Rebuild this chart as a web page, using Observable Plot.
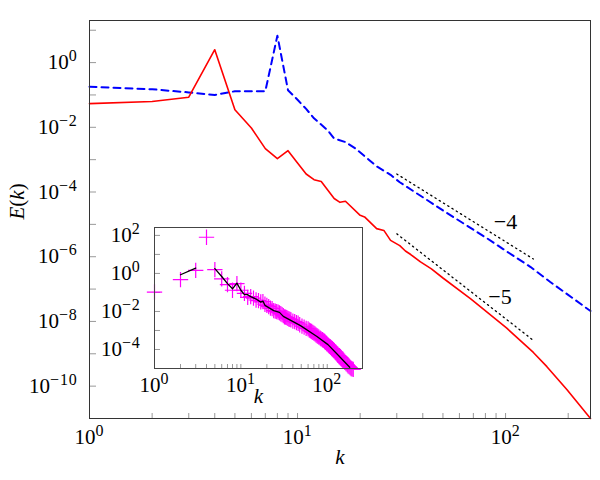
<!DOCTYPE html>
<html><head><meta charset="utf-8">
<script src="https://cdn.jsdelivr.net/npm/d3@7"></script>
<script src="https://cdn.jsdelivr.net/npm/@observablehq/plot@0.6"></script>
<style>
html,body{margin:0;padding:0;background:#fff;}
#wrap{position:relative;width:600px;height:480px;overflow:hidden;}
#wrap svg{max-width:none !important;}
#wrap svg text, #wrap svg tspan{font-family:'Liberation Serif','DejaVu Serif',serif !important;}
</style></head><body><div id="wrap"></div>
<script>
// ---- main panel data ----
const redK = [1,2,3,4,5,6,7,8,9,10,11,12,13,15,16,17,20,21,24,26,28,31,33,35,39,44,50,68,101,136,158,197,256];
const redE = [5.4e-2,6.3e-2,8.5e-2,2.5,3.5e-2,9.5e-3,2.2e-3,1.07e-3,1.9e-3,7.9e-4,3.6e-4,2.4e-4,2.1e-4,6.3e-5,4.8e-5,5.2e-5,1.9e-5,1.7e-5,7.4e-6,6.5e-6,3.2e-6,2.2e-6,1.5e-6,1.17e-6,6.9e-7,4.2e-7,2.2e-7,5.0e-8,6.3e-9,1.1e-9,4.0e-10,7.9e-11,1.0e-11];
const blueK = [1,2,3,4,5,6,7,8,9,10,11,12,14,15,17,19,22,24,28,31,40,50,66,82,104,132,164,256];
const blueE = [0.18,0.15,0.12,0.10,0.13,0.13,0.13,6.8,0.14,0.071,0.037,0.019,7.9e-3,4.5e-3,3.5e-3,2.2e-3,1.0e-3,6.2e-4,3.4e-4,2.0e-4,6.9e-5,2.7e-5,8.7e-6,3.6e-6,1.3e-6,4.8e-7,1.66e-7,2.1e-8];
const refK = [30,136];
const ref4E = [3.6e-4,8.5e-7];
const ref5E = [5.1e-6,2.6e-9];
const slopeK = [100,94];
const slopeE = [1.2e-5,5.9e-8];
const slopeText = ["\u22124","\u22125"];
const mainXTicks = [1,2,3,4,5,6,7,8,9,10,20,30,40,50,60,70,80,90,100,200];
const mainXLabels = [1,10,100];
const mainYTicks = [10,1,1e-1,1e-2,1e-3,1e-4,1e-5,1e-6,1e-7,1e-8,1e-9,1e-10];
const mainYLabels = [1,1e-2,1e-4,1e-6,1e-8,1e-10];
// ---- inset data ----
const insetLineK = [1,2,3,4,5,6,7,8,9,10,11,12,13,15,17,18,19,24,28,31,49,76,102,135,182];
const insetLineE = [null,0.85,1.9,null,1.8,0.69,0.29,0.155,0.31,0.13,0.076,0.076,0.06,0.045,0.031,0.035,0.021,0.011,9e-3,5.5e-3,1.8e-3,4.8e-4,1.8e-4,4.8e-5,1.17e-5];
const markK = [1,2,3,4,5,6,7,8,9,10,11,12,13,14,15,16,17,18,19,20,21,22,23,24,25,26,27,28,29,30,31,32,33,34,35,36,37,38,40,42,44,46,48,51,54,57,60,62,64,66,68,70,72,74,76,78,80,83,85,88,90,93,95,98,100,103,106,109,112,115,118,121,125,128,132,136,140,144,148,152,156,160,165,170,174,179,184,189,194,200];
const markE = [0.105,0.47,1.45,80,1.6,0.52,0.26,0.13,0.29,0.13,0.09,0.055,0.06,0.05,0.04,0.037,0.032,0.033,0.024,0.021,0.018,0.015,0.014,0.011,0.0105,0.0098,0.0093,0.0085,0.0076,0.0068,0.0060,0.0052,0.0050,0.0047,0.0043,0.0040,0.0038,0.0036,0.0031,0.0029,0.0026,0.0024,0.0020,0.0017,0.0015,0.0013,0.0012,0.00105,9.5e-4,8.8e-4,8.0e-4,7.2e-4,6.6e-4,5.9e-4,5.3e-4,4.9e-4,4.5e-4,4.0e-4,3.6e-4,3.3e-4,3.0e-4,2.7e-4,2.4e-4,2.15e-4,1.9e-4,1.7e-4,1.5e-4,1.35e-4,1.2e-4,1.1e-4,9.8e-5,8.6e-5,7.4e-5,6.5e-5,5.6e-5,4.8e-5,4.2e-5,3.7e-5,3.2e-5,2.8e-5,2.4e-5,2.1e-5,1.8e-5,1.6e-5,1.4e-5,1.25e-5,1.1e-5,1.0e-5,9.5e-6,9.0e-6];
const insetXTicks = [1,2,3,4,5,6,7,8,9,10,20,30,40,50,60,70,80,90,100,200];
const insetXLabels = [1,10,100];
const insetYTicks = [100,10,1,0.1,0.01,1e-3,1e-4];
const insetYLabels = [100,1,1e-2,1e-4];

const zip = (ks, es) => ks.map((k, i) => ({k, e: es[i]}));
const expLabel = d => { const e = Math.round(Math.log10(d)); return "10^" + (e < 0 ? "\u2212" + (-e) : String(e)); };
const style = {background: "transparent", color: "black", overflow: "visible"};

const main = Plot.plot({
  width: 600, height: 480,
  marginLeft: 89, marginRight: 10, marginTop: 20, marginBottom: 62,
  x: {type: "log", domain: [1, 256], label: null},
  y: {type: "log", domain: [1e-11, 20], label: null},
  style,
  marks: [
    Plot.axisX({ticks: mainXTicks, tickSize: -5, stroke: "#999", fill: null, label: null}),
    Plot.axisY({ticks: mainYTicks, tickSize: -7, stroke: "#999", fill: null, label: null}),
    Plot.axisX({ticks: mainXLabels, tickSize: 0, tickPadding: 11, tickFormat: expLabel, fill: "black", label: null}),
    Plot.axisY({ticks: mainYLabels, tickSize: 0, tickPadding: 12, tickFormat: expLabel, fill: "black", label: null}),
    Plot.line(zip(refK, ref4E), {x: "k", y: "e", stroke: "black", strokeWidth: 1.3, strokeDasharray: "1.3,3.7"}),
    Plot.line(zip(refK, ref5E), {x: "k", y: "e", stroke: "black", strokeWidth: 1.3, strokeDasharray: "1.3,3.7"}),
    Plot.line(zip(blueK, blueE), {x: "k", y: "e", stroke: "#0000ff", strokeWidth: 2, strokeDasharray: "7,5"}),
    Plot.line(zip(redK, redE), {x: "k", y: "e", stroke: "#ff0000", strokeWidth: 1.6}),
    Plot.text(slopeText.map((t, i) => ({t, k: slopeK[i], e: slopeE[i]})), {x: "k", y: "e", text: "t", fill: "black"}),
    Plot.text(["E(k)"], {frameAnchor: "left", dx: -72, rotate: -90, fill: "black"}),
    Plot.text(["k"], {frameAnchor: "bottom", dy: 45, fontStyle: "italic", fill: "black"}),
    Plot.frame({stroke: "#333", strokeWidth: 1})
  ]
});

const inset = Plot.plot({
  width: 280, height: 200,
  marginLeft: 64, marginRight: 8, marginTop: 12, marginBottom: 47,
  x: {type: "log", domain: [1, 256], label: null},
  y: {type: "log", domain: [1e-5, 260], label: null},
  style,
  marks: [
    Plot.frame({fill: "white", stroke: null}),
    Plot.axisX({ticks: insetXTicks, tickSize: -4, stroke: "#999", fill: null, label: null}),
    Plot.axisY({ticks: insetYTicks, tickSize: -6, stroke: "#999", fill: null, label: null}),
    Plot.axisX({ticks: insetXLabels, tickSize: 0, tickPadding: 9, tickFormat: expLabel, fill: "black", label: null}),
    Plot.axisY({ticks: insetYLabels, tickSize: 0, tickPadding: 14, tickFormat: expLabel, fill: "black", label: null}),
    Plot.dot(zip(markK, markE), {x: "k", y: "e", symbol: "plus", r: 5, stroke: "#ff00ff", strokeWidth: 1.2}),
    Plot.line(zip(insetLineK, insetLineE), {x: "k", y: "e", stroke: "black", strokeWidth: 1.3}),
    Plot.text(["k"], {frameAnchor: "bottom", dy: 34, fontStyle: "italic", fill: "black"}),
    Plot.frame({stroke: "#444", strokeWidth: 1})
  ]
});

const NS = "http://www.w3.org/2000/svg";
function span(parent, txt, attrs) {
  const s = document.createElementNS(NS, "tspan");
  s.textContent = txt;
  for (const [a, v] of Object.entries(attrs || {})) s.setAttribute(a, v);
  parent.appendChild(s);
  return s;
}
function rich(svg) {
  svg.querySelectorAll("text").forEach(t => {
    const s = t.textContent;
    t.style.fontSize = "21px";
    if (s.includes("^")) {
      const [b, e] = s.split("^");
      t.textContent = "";
      span(t, b);
      const sp = span(t, e, {dy: "-8"});
      sp.style.fontSize = "16px";
      sp.style.letterSpacing = "0.8px";
    } else if (s === "E(k)") {
      t.textContent = "";
      span(t, "E", {"font-style": "italic"});
      span(t, "(");
      span(t, "k", {"font-style": "italic"});
      span(t, ")");
    } else if (s === "\u22124" || s === "\u22125") {
      t.style.fontSize = "22px";
    }
  });
}
rich(main); rich(inset);
inset.style.position = "absolute";
inset.style.left = "90px";
inset.style.top = "215px";
const wrap = document.getElementById("wrap");
wrap.appendChild(main);
wrap.appendChild(inset);
</script>
</body></html>
